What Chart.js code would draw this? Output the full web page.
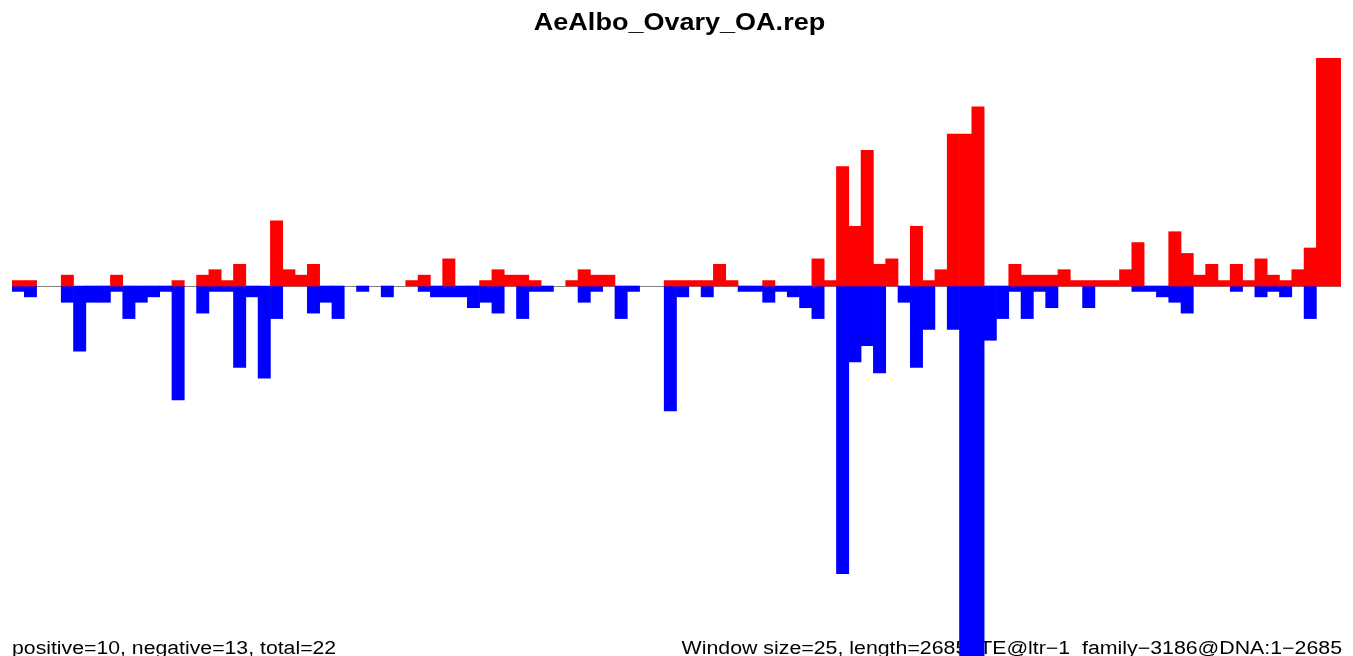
<!DOCTYPE html>
<html>
<head>
<meta charset="utf-8">
<title>AeAlbo_Ovary_OA.rep</title>
<script src="https://cdn.jsdelivr.net/npm/chart.js@4.4.1/dist/chart.umd.min.js"></script>
<style>
  html, body { margin: 0; padding: 0; background: #ffffff; overflow: hidden; }
  #wrap { width: 1353px; height: 656px; position: relative; }
</style>
</head>
<body>
<div id="wrap"><canvas id="c" width="1353" height="656"></canvas></div>
<script>
// ---- data (one entry per 25-bp window, 108 windows) ----
const chartTitle = "AeAlbo_Ovary_OA.rep";
const footLeft = "positive=10, negative=13, total=22";
const footRight = "Window size=25, length=2685, TE@ltr\u22121  family\u22123186@DNA:1\u22122685";

const windowStarts = [];
for (let i = 0; i < 108; i++) windowStarts.push(String(1 + i * 25));

const positiveCounts = [
  1, 1, 0, 0, 2, 0, 0, 0, 2, 0,
  0, 0, 0, 1, 0, 2, 3, 1, 4, 0,
  0, 12, 3, 2, 4, 0, 0, 0, 0, 0,
  0, 0, 1, 2, 0, 5, 0, 0, 1, 3,
  2, 2, 1, 0, 0, 1, 3, 2, 2, 0,
  0, 0, 0, 1, 1, 1, 1, 4, 1, 0,
  0, 1, 0, 0, 0, 5, 1, 22, 11, 25,
  4, 5, 0, 11, 1, 3, 28, 28, 33, 0,
  0, 4, 2, 2, 2, 3, 1, 1, 1, 1,
  3, 8, 0, 0, 10, 6, 2, 4, 1, 4,
  1, 5, 2, 1, 3, 7, 42, 42
];

const negativeCounts = [
  1, 2, 0, 0, 3, 12, 3, 3, 1, 6,
  3, 2, 1, 21, 0, 5, 1, 1, 15, 2,
  17, 6, 0, 0, 5, 3, 6, 0, 1, 0,
  2, 0, 0, 1, 2, 2, 2, 4, 3, 5,
  0, 6, 1, 1, 0, 0, 3, 1, 0, 6,
  1, 0, 0, 23, 2, 0, 2, 0, 0, 1,
  1, 3, 1, 2, 4, 6, 0, 53, 14, 11,
  16, 0, 3, 15, 8, 0, 8, 70, 70, 10,
  6, 1, 6, 1, 4, 0, 0, 4, 0, 0,
  0, 1, 1, 2, 3, 5, 0, 0, 0, 1,
  0, 2, 1, 2, 0, 6, 0, 0
];

const yMax = 42;
const yMin = -68.16;

const FONT = '"Liberation Sans", Arial, Helvetica, sans-serif';

function stretchedText(ctx, text, x, y, align, font, sx) {
  ctx.save();
  ctx.font = font;
  ctx.fillStyle = '#000000';
  ctx.textBaseline = 'alphabetic';
  ctx.textAlign = align;
  ctx.translate(x, y);
  ctx.scale(sx, 1);
  ctx.fillText(text, 0, 0);
  ctx.restore();
}

// ---- plugins ----
const zeroLine = {
  id: 'zeroLine',
  beforeDatasetsDraw(chart) {
    const { ctx, chartArea, scales } = chart;
    const y = Math.round(scales.y.getPixelForValue(0)) + 0.5;
    ctx.save();
    ctx.strokeStyle = '#808080';
    ctx.lineWidth = 1;
    ctx.beginPath();
    ctx.moveTo(chartArea.left, y);
    ctx.lineTo(chartArea.right, y);
    ctx.stroke();
    ctx.restore();
  }
};

const texts = {
  id: 'plotTexts',
  beforeDatasetsDraw(chart) {
    const { ctx } = chart;
    stretchedText(ctx, chartTitle, 679.5, 30, 'center', 'bold 23px ' + FONT, 1.175);
    stretchedText(ctx, footLeft, 12, 654, 'left', '18px ' + FONT, 1.18);
    stretchedText(ctx, footRight, 1342, 654, 'right', '18px ' + FONT, 1.185);
  }
};

new Chart(document.getElementById('c'), {
  type: 'bar',
  data: {
    labels: windowStarts,
    datasets: [
      {
        label: 'positive',
        data: positiveCounts.map(v => (v === 0 ? null : v)),
        backgroundColor: '#ff0000',
        borderWidth: 0,
        barPercentage: 1.0,
        categoryPercentage: 1.0
      },
      {
        label: 'negative',
        data: negativeCounts.map(v => (v === 0 ? null : -v)),
        backgroundColor: '#0000ff',
        borderWidth: 0,
        barPercentage: 1.0,
        categoryPercentage: 1.0
      }
    ]
  },
  options: {
    responsive: false,
    animation: false,
    devicePixelRatio: 1,
    layout: { padding: { left: 12, right: 12, top: 58, bottom: 0 } },
    plugins: {
      legend: { display: false },
      tooltip: { enabled: false },
      title: { display: false }
    },
    scales: {
      x: {
        display: false,
        stacked: true,
        offset: true,
        grid: { display: false }
      },
      y: {
        display: false,
        stacked: true,
        min: yMin,
        max: yMax,
        grid: { display: false }
      }
    }
  },
  plugins: [zeroLine, texts]
});
</script>
</body>
</html>
